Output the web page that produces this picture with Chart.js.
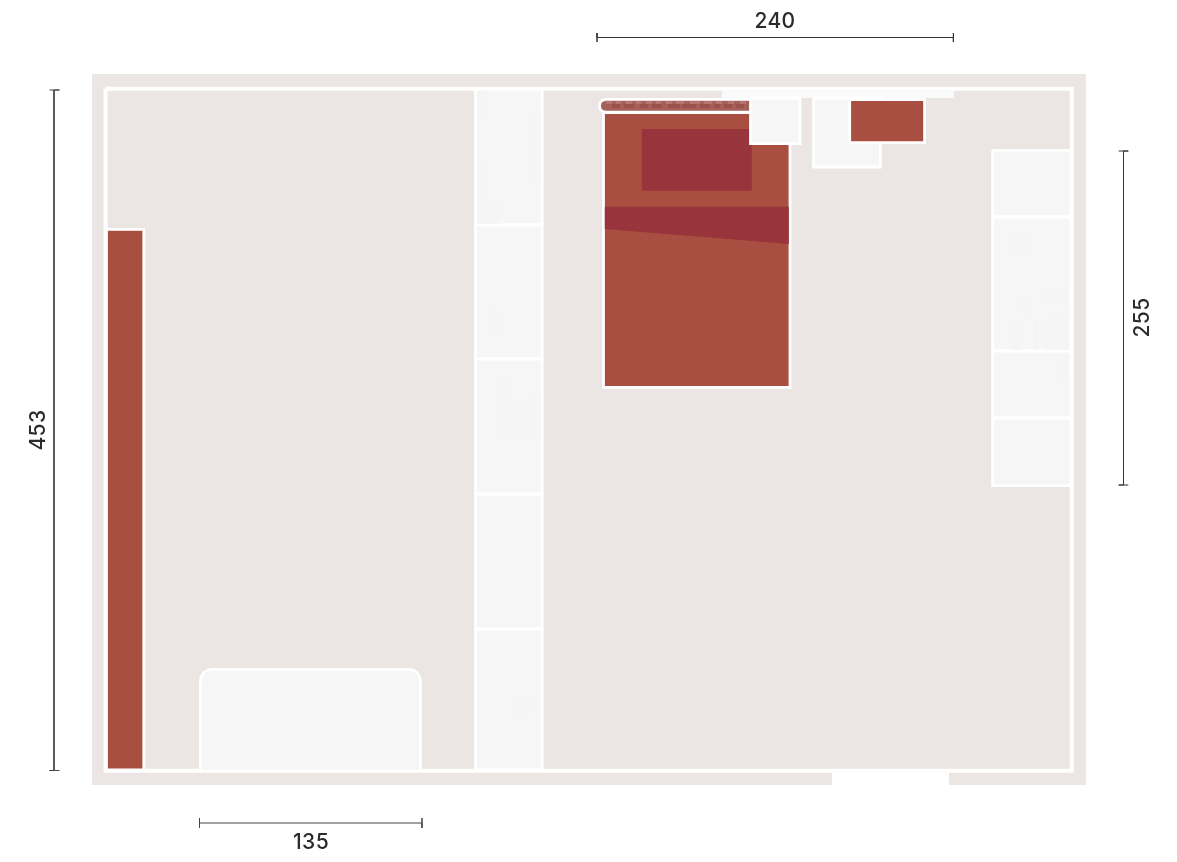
<!DOCTYPE html>
<html><head><meta charset="utf-8">
<style>html,body{margin:0;padding:0;background:#fff}canvas{display:block}</style>
<script src="https://cdn.jsdelivr.net/npm/chart.js@4"></script></head>
<body><canvas id="c" width="1177" height="862"></canvas>
<script>
// plan coordinates: [left, top, right, bottom]
const plateRect = [92,74,1086,785];
const doorRect = [832,772.7,949,786];
const windowRect = [722,90.7,954,98];
const wallRect = [105.6,88.7,1071.7,770.7];
const cabinetRects = [
  [475.5,89,542.2,225],[475.5,225,542.2,359],[475.5,359,542.2,494],[475.5,494,542.2,629],[475.5,629,542.2,770],
  [992.6,150.4,1071,217],[992.6,217,1071,351],[992.6,351,1071,418],[992.6,418,1071,485.6]
];
const ghostRects = [
  [477,91,488,118],[528,118,541,180],[478,160,488,224],[487,205,500,224],
  [487,310,500,332],[1008,231,1020,250],[1023,231,1031,250],[1043,287,1069,303],
  [1022,295,1031,315],[1012,320,1022,350],[1034,318,1038,350],[1046,318,1069,350],[1058,355,1069,378],
  [498,375,506,440],[517,400,526,440],[530,392,541,440],[514,696,530,716]
];
const desktopRect = [813.5,98,880.5,167];
const nightstandRect = [750.5,98,800,143.6];
const redDeskRect = [849.7,99.6,924.6,142.6];
const sideRedRect = [106.5,229.3,143.8,770];
const bedRect = [603.5,112.7,790,387.3];
const pillowRect = [641.8,129,751.8,190.8];
const blanketX = [604.8,788.8,788.8,604.8];
const blanketY = [206.8,206.8,244,229];
const sofaX = [200.3,200.3,201.2,203.8,208,212.3,408.5,412.8,417,419.6,420.5,420.5];
const sofaY = [770,681.5,676.8,672.6,670,669.3,669.3,670,672.6,676.8,681.5,770];
const headboardX = [750,605.5,602.4,600.2,599.5,600.2,602.4,605.5,750];
const headboardY = [99.4,99.4,100.3,102.4,105.8,109.2,111.3,112.2,112.2];
const headboardLightX = [606,616,626,636,646,656,666,676,690,704,716,728,740];
const headboardLightW = [6,5,6,5,6,5,6,8,10,8,6,6,6];
const headboardDarkX = [612,624,640,652,668,682,700,714,724,736];
const headboardDarkW = [8,10,8,10,12,14,10,6,8,8];
const dimLabels = ['240','135','453','255'];
const dimX = [[597,597,597,953.4,953.4,953.4],[199.5,199.5,199.5,422,422,422],[49.5,59.5,54,54,49.5,59.5],[1118.7,1128.3,1123.5,1123.5,1118.7,1128.3]];
const dimY = [[33,42,37.5,37.5,33,42],[818,828,823,823,818,828],[90,90,90,770.5,770.5,770.5],[151,151,151,485,485,485]];
const dimLabelX = [775,311,39,1143];
const dimLabelY = [22,843,430,317.5];
const dimLabelAngle = [0,0,-90,-90];

const WHITE='#ffffff', PLATE='#ebe6e3', CAB='#f6f6f6', RED='#a94f42', DARK='#98343b';
const pts=(xs,ys)=>xs.map((x,i)=>({x,y:ys[i]}));
const rect=r=>[{x:r[0],y:r[1]},{x:r[2],y:r[1]},{x:r[2],y:r[3]},{x:r[0],y:r[3]},{x:r[0],y:r[1]}];
const shape=(data,fill,stroke,w)=>({data,showLine:true,fill:fill?'shape':false,backgroundColor:fill||'transparent',
  borderColor:stroke||'transparent',borderWidth:w||0,pointRadius:0,tension:0,borderJoinStyle:'miter',clip:false});

const layers=[];
layers.push(shape(rect(plateRect),PLATE));
layers.push(shape(rect(doorRect),WHITE));
layers.push(shape(rect(wallRect),null,WHITE,4));
cabinetRects.forEach(r=>layers.push(shape(rect(r),CAB,WHITE,2.8)));
ghostRects.forEach(r=>layers.push(shape(rect(r),'#f5f5f5')));
layers.push(shape(pts(headboardX,headboardY),'#a5605a',WHITE,2.8));
headboardLightX.forEach((x,i)=>layers.push(shape(rect([x,101,x+headboardLightW[i],104]),'rgba(205,150,150,0.4)')));
headboardDarkX.forEach((x,i)=>layers.push(shape(rect([x,104,x+headboardDarkW[i],108]),'rgba(140,55,60,0.35)')));
layers.push(shape(rect(bedRect),RED,WHITE,2.8));
layers.push(shape(rect(pillowRect),DARK));
layers.push(shape(pts(blanketX,blanketY),DARK));
layers.push(shape(rect(windowRect),'#f9faf9'));
layers.push(shape(rect(desktopRect),CAB,WHITE,2.8));
layers.push(shape(rect(nightstandRect),CAB,WHITE,2.8));
layers.push(shape(rect(redDeskRect),RED,WHITE,2.8));
layers.push(shape(rect(sideRedRect),RED,WHITE,2.8));
layers.push(shape(pts(sofaX,sofaY),CAB,WHITE,2.8));
dimX.forEach((xs,i)=>layers.push(shape(pts(xs,dimY[i]),null,i===1||i===2?'#444444':'#333333',1)));
layers.forEach((d,i)=>d.order=layers.length-i);

const dimText={id:'dimText',afterDraw(ch){
  const c=ch.ctx,sx=ch.scales.x,sy=ch.scales.y;
  c.save();c.fillStyle='#2b2b2b';c.font='500 21px Inter, sans-serif';c.letterSpacing='0.4px';c.textAlign='center';c.textBaseline='middle';
  dimLabels.forEach((t,i)=>{c.save();c.translate(sx.getPixelForValue(dimLabelX[i]),sy.getPixelForValue(dimLabelY[i]));
    c.rotate(dimLabelAngle[i]*Math.PI/180);c.fillText(t,0,0);c.restore();});
  c.restore();}};

new Chart(document.getElementById('c'),{type:'scatter',data:{datasets:layers},plugins:[dimText],options:{
  responsive:false,animation:false,layout:{padding:0},
  plugins:{legend:{display:false},tooltip:{enabled:false}},
  scales:{x:{type:'linear',min:0,max:1177,display:false},y:{type:'linear',min:0,max:862,reverse:true,display:false}}
}});
</script></body></html>
